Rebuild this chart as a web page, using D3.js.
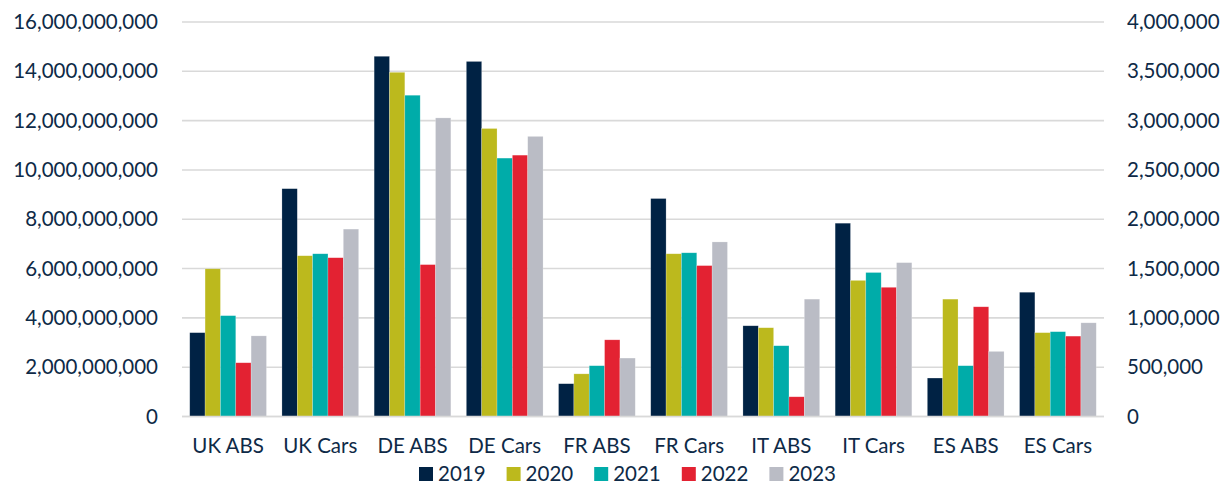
<!DOCTYPE html>
<html>
<head>
<meta charset="utf-8">
<script src="https://cdn.jsdelivr.net/npm/d3@7"></script>
<style>
  html, body { margin: 0; padding: 0; background: #ffffff; }
  svg { display: block; }
  text { font-family: Lato, "Open Sans", sans-serif; fill: #0e2a47; }
</style>
</head>
<body>
<svg id="chart" width="1226" height="484"></svg>
<script>
// ---- data ----
const categories = ["UK ABS", "UK Cars", "DE ABS", "DE Cars", "FR ABS", "FR Cars", "IT ABS", "IT Cars", "ES ABS", "ES Cars"];
// which axis each category is measured on (ABS = left, EUR; Cars = right, units)
const categoryAxis = ["left", "right", "left", "right", "left", "right", "left", "right", "left", "right"];
const years = ["2019", "2020", "2021", "2022", "2023"];
const v2019 = [3.40e9, 2.31e6, 14.61e9, 3.60e6, 1.33e9, 2.21e6, 3.68e9, 1.96e6, 1.56e9, 1.26e6];
const v2020 = [5.99e9, 1.63e6, 13.96e9, 2.92e6, 1.73e9, 1.65e6, 3.60e9, 1.38e6, 4.76e9, 0.85e6];
const v2021 = [4.09e9, 1.65e6, 13.03e9, 2.62e6, 2.06e9, 1.66e6, 2.87e9, 1.46e6, 2.06e9, 0.86e6];
const v2022 = [2.18e9, 1.61e6, 6.16e9, 2.65e6, 3.11e9, 1.53e6, 0.80e9, 1.31e6, 4.45e9, 0.815e6];
const v2023 = [3.27e9, 1.90e6, 12.11e9, 2.84e6, 2.37e9, 1.77e6, 4.76e9, 1.56e6, 2.64e9, 0.95e6];
const leftTicks = [0, 2e9, 4e9, 6e9, 8e9, 10e9, 12e9, 14e9, 16e9];
const rightTicks = [0, 5e5, 1e6, 1.5e6, 2e6, 2.5e6, 3e6, 3.5e6, 4e6];

const seriesValues = [v2019, v2020, v2021, v2022, v2023];
const colors = ["#002244", "#bcb91d", "#00aca9", "#e32232", "#babcc5"];

// ---- layout ----
const svg = d3.select("#chart");
const plot = { left: 182, right: 1104, top: 22, bottom: 416.5 };

const x = d3.scaleBand().domain(categories).range([plot.left, plot.right])
  .paddingInner(0.168).paddingOuter(0.084);
const xi = d3.scaleBand().domain(years).range([0, x.bandwidth()]).padding(0);
const yL = d3.scaleLinear().domain([0, 16e9]).range([plot.bottom, plot.top]);
const yR = d3.scaleLinear().domain([0, 4e6]).range([plot.bottom, plot.top]);

// gridlines
svg.append("g").selectAll("line").data(leftTicks).join("line")
  .attr("x1", plot.left).attr("x2", plot.right)
  .attr("y1", d => yL(d)).attr("y2", d => yL(d))
  .attr("stroke", "#d9d9d9").attr("stroke-width", 1.6);

// bars
const rows = [];
years.forEach((yr, si) => {
  categories.forEach((c, ci) => {
    rows.push({ year: yr, cat: c, value: seriesValues[si][ci], axis: categoryAxis[ci], color: colors[si] });
  });
});
svg.append("g").selectAll("rect").data(rows).join("rect")
  .attr("x", d => x(d.cat) + xi(d.year))
  .attr("width", xi.bandwidth())
  .attr("y", d => (d.axis === "left" ? yL : yR)(d.value))
  .attr("height", d => plot.bottom - (d.axis === "left" ? yL : yR)(d.value))
  .attr("fill", d => d.color)
  .attr("stroke", "#ffffff").attr("stroke-opacity", 0.35).attr("stroke-width", 0.6);

// baseline on top
svg.append("line").attr("x1", plot.left).attr("x2", plot.right)
  .attr("y1", yL(0)).attr("y2", yL(0)).attr("stroke", "#d9d9d9").attr("stroke-width", 1.6);

const fs = "20.5px";
// left axis
const gl = svg.append("g").attr("transform", `translate(${plot.left},0)`)
  .call(d3.axisLeft(yL).tickValues(leftTicks).tickFormat(d3.format(",")).tickSize(0).tickPadding(24));
gl.select(".domain").remove();
gl.selectAll("text").style("font-size", fs).style("font-family", "Lato, 'Open Sans', sans-serif").attr("fill", "#0e2a47");

// right axis
const gr = svg.append("g").attr("transform", `translate(${plot.right},0)`)
  .call(d3.axisRight(yR).tickValues(rightTicks).tickFormat(d3.format(",")).tickSize(0).tickPadding(23));
gr.select(".domain").remove();
gr.selectAll("text").style("font-size", fs).style("font-family", "Lato, 'Open Sans', sans-serif").attr("fill", "#0e2a47");

// x axis
const gx = svg.append("g").attr("transform", `translate(0,${plot.bottom})`)
  .call(d3.axisBottom(x).tickSize(0).tickPadding(22));
gx.select(".domain").remove();
gx.selectAll("text").style("font-size", fs).style("font-family", "Lato, 'Open Sans', sans-serif").attr("fill", "#0e2a47");

// legend
const legStart = 419, legStep = 87.6, legY = 473;
const lg = svg.append("g").selectAll("g").data(years).join("g")
  .attr("transform", (d, i) => `translate(${legStart + i * legStep},${legY})`);
lg.append("rect").attr("x", 0).attr("y", -6).attr("width", 14).attr("height", 14)
  .attr("fill", (d, i) => colors[i]);
lg.append("text").attr("x", 19).attr("y", 8)
  .style("font-size", fs).text(d => d);
</script>
</body>
</html>
